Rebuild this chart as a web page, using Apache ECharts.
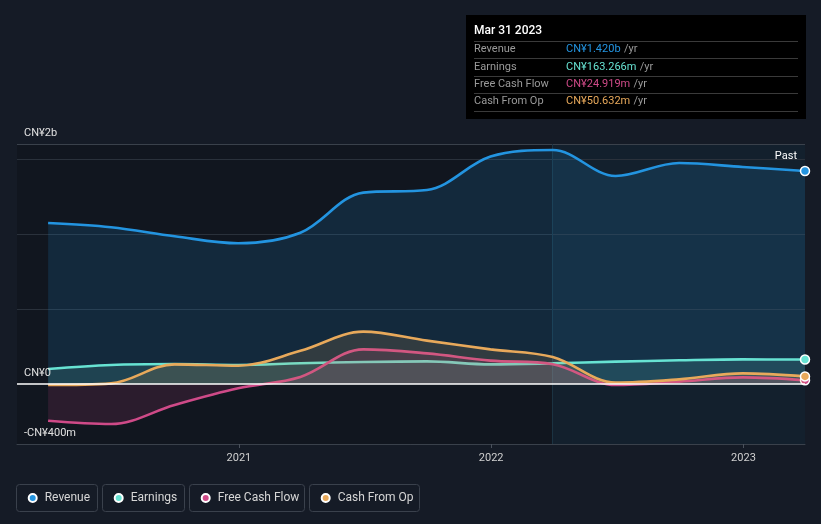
<!DOCTYPE html>
<html>
<head>
<meta charset="utf-8">
<script src="https://cdn.jsdelivr.net/npm/echarts@6/dist/echarts.min.js"></script>
<style>
html,body{margin:0;padding:0;background:#151b26;}
#chart{width:821px;height:524px;}
</style>
</head>
<body>
<div id="chart"></div>
<script>
// ---- data (CN¥ millions, trailing twelve months) ----
const dates = ['2020-03-31','2020-06-30','2020-09-30','2020-12-31','2021-03-31','2021-06-30','2021-09-30','2021-12-31','2022-03-31','2022-06-30','2022-09-30','2022-12-31','2023-03-31'];
const revenue = [1073, 1045, 985, 938, 1008, 1276, 1293, 1516, 1560, 1387, 1473, 1447, 1420];
const earnings = [100, 127, 133, 127, 138, 147, 151, 131, 138, 149, 158, 164, 163.266];
const freeCashFlow = [-245, -267, -140, -29, 47, 231, 204, 156, 132, -7, 16, 44, 24.919];
const cashFromOp = [-7, 4, 131, 122, 221, 349, 289, 231, 180, 9, 31, 71, 50.632];

const seriesNames = ['Revenue', 'Earnings', 'Free Cash Flow', 'Cash From Op'];
const yTickValues = [-400, 0, 1600];
const yTickLabels = ['-CN¥400m', 'CN¥0', 'CN¥2b'];
const yGridValues = [500, 1000, 1500, 1600];
const xTickDates = ['2021-01-01', '2022-01-01', '2023-01-01'];
const xMin = '2020-02-15';
const xMax = '2023-03-31';
const highlightStart = '2022-03-31';
const tooltipDate = 'Mar 31 2023';
const tooltipValues = ['CN¥1.420b', 'CN¥163.266m', 'CN¥24.919m', 'CN¥50.632m'];
const pastLabel = 'Past';

// ---- styles ----
const colors = ['#2394e0', '#67e3d3', '#cf4a88', '#e8a95b'];
const fillAlpha = [0.22, 0.2, 0.2, 0.2];
const FONT = 'Roboto, "Noto Sans", sans-serif';

function toTs(s){ return Date.UTC(+s.slice(0,4), +s.slice(5,7) - 1, +s.slice(8,10)); }
function hexA(hex, a){
  const n = parseInt(hex.slice(1), 16);
  return 'rgba(' + (n >> 16 & 255) + ',' + (n >> 8 & 255) + ',' + (n & 255) + ',' + a + ')';
}
function mkData(arr){
  return arr.map((v, i) => {
    const d = { value: [toTs(dates[i]), v] };
    if (i === arr.length - 1) { d.symbol = 'circle'; d.symbolSize = 9; }
    return d;
  });
}
const allData = [revenue, earnings, freeCashFlow, cashFromOp];

const series = allData.map((arr, i) => ({
  name: seriesNames[i],
  type: 'line',
  data: mkData(arr),
  smooth: 0.35,
  symbol: 'none',
  showSymbol: true,
  z: 2 + i,
  lineStyle: { color: colors[i], width: 2.6 },
  itemStyle: { color: colors[i], borderColor: '#ffffff', borderWidth: 1.5 },
  areaStyle: { color: hexA(colors[i], fillAlpha[i]) },
  emphasis: { disabled: true }
}));

// background regions + gridlines
series[0].markArea = {
  silent: true,
  z: 1,
  data: [
    [{ xAxis: toTs(xMin), itemStyle: { color: '#11161f' } }, { xAxis: toTs(highlightStart) }],
    [{ xAxis: toTs(highlightStart), itemStyle: { color: '#13202d' } }, { xAxis: toTs(xMax) }]
  ]
};
series[0].markLine = {
  silent: true,
  z: 1.5,
  symbol: ['none', 'none'],
  label: { show: false },
  data: yGridValues.map((v, i) => ({
    yAxis: v,
    lineStyle: { color: i === yGridValues.length - 1 ? '#3a414b' : '#2a313b', width: 1, type: 'solid' }
  })).concat([{ xAxis: toTs(highlightStart), lineStyle: { color: '#1b3342', width: 1, type: 'solid' } }])
};
series[3].markLine = {
  silent: true,
  z: 10,
  symbol: ['none', 'none'],
  label: { show: false },
  data: [{ yAxis: 0, lineStyle: { color: '#ffffff', width: 1.5, type: 'solid' } }]
};

const legendLeft = [27.7, 113.7, 200.7, 320.7];
const legends = seriesNames.map((n, i) => ({
  data: [n],
  left: legendLeft[i],
  top: 492,
  padding: 0,
  icon: 'circle',
  itemWidth: 8,
  itemHeight: 8,
  textStyle: { color: '#d6d6d6', fontSize: 12, fontFamily: FONT, padding: [0, 0, 0, 3] }
}));

const legendBoxes = [[16.5, 81], [102.5, 82], [189.5, 115], [309.5, 110]];
const rowY = [49.5, 67, 84.5, 101.5];
const sepY = [41.5, 58.5, 76.5, 93.5, 111.5];

const graphics = [];
legendBoxes.forEach(b => {
  graphics.push({
    type: 'rect', silent: true, z: 0,
    shape: { x: b[0], y: 484.5, width: b[1], height: 27, r: 3 },
    style: { fill: 'none', stroke: '#3a414c', lineWidth: 1 }
  });
});
graphics.push({
  type: 'rect', silent: true, z: 50,
  shape: { x: 466, y: 15, width: 340, height: 104 },
  style: { fill: '#000000' }
});
graphics.push({
  type: 'text', silent: true, z: 51, x: 474, y: 31,
  style: { text: tooltipDate, fill: '#ffffff', font: '500 12px ' + FONT, verticalAlign: 'middle' }
});
sepY.forEach(y => {
  graphics.push({
    type: 'line', silent: true, z: 51,
    shape: { x1: 474, y1: y, x2: 798, y2: y },
    style: { stroke: '#3a3a3a', lineWidth: 1 }
  });
});
seriesNames.forEach((t, i) => {
  graphics.push({
    type: 'text', silent: true, z: 51, x: 474, y: rowY[i],
    style: { text: t, fill: '#9a9a9a', font: '11px ' + FONT, verticalAlign: 'middle' }
  });
  graphics.push({
    type: 'text', silent: true, z: 51, x: 566, y: rowY[i],
    style: {
      text: '{v|' + tooltipValues[i] + '} {u|/yr}',
      verticalAlign: 'middle',
      rich: {
        v: { fill: colors[i], font: '11px ' + FONT },
        u: { fill: '#9a9a9a', font: '11px ' + FONT }
      }
    }
  });
});
graphics.push({
  type: 'text', silent: true, z: 20, x: 797, y: 156,
  style: { text: pastLabel, fill: '#ffffff', font: '11px ' + FONT, align: 'right', verticalAlign: 'middle' }
});

const chart = echarts.init(document.getElementById('chart'), null, { renderer: 'canvas' });
chart.setOption({
  backgroundColor: '#151b26',
  animation: false,
  textStyle: { fontFamily: FONT },
  grid: { left: 17, right: 16, top: 144, bottom: 80, containLabel: false },
  legend: legends,
  tooltip: { show: false },
  xAxis: {
    type: 'value',
    min: toTs(xMin),
    max: toTs(xMax),
    axisLine: { onZero: false, lineStyle: { color: '#3a414b', width: 1 } },
    axisTick: { show: true, length: 4, customValues: xTickDates.map(toTs), lineStyle: { color: '#4a515c' } },
    axisLabel: {
      customValues: xTickDates.map(toTs),
      formatter: v => String(new Date(v).getUTCFullYear()),
      color: '#d0d0d0', fontSize: 11, margin: 9, fontFamily: FONT
    },
    splitLine: { show: false }
  },
  yAxis: {
    type: 'value',
    z: 20,
    min: -400,
    max: 1600,
    axisLine: { show: false },
    axisTick: { show: false },
    splitLine: { show: false },
    axisLabel: {
      inside: true,
      customValues: yTickValues,
      formatter: v => { const k = yTickValues.indexOf(v); return k >= 0 ? yTickLabels[k] : ''; },
      color: '#e0e0e0', fontSize: 11, margin: 7, verticalAlign: 'bottom', padding: [0, 0, 5, 0], fontFamily: FONT
    }
  },
  series: series,
  graphic: graphics
});
</script>
</body>
</html>
